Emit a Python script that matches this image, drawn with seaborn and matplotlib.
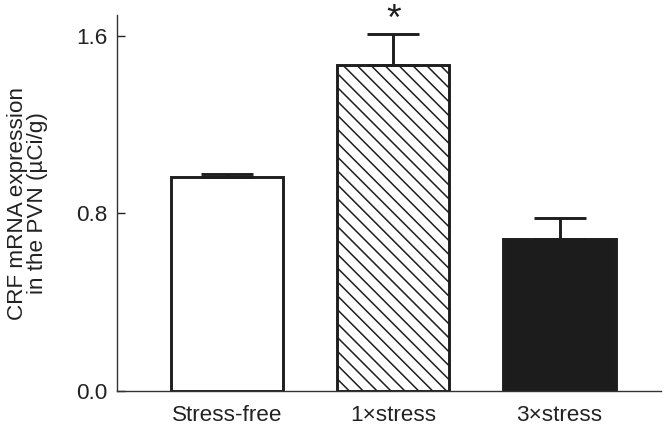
import matplotlib
matplotlib.use('Agg')
import matplotlib.pyplot as plt
import seaborn as sns
import pandas as pd

# DATA
groups = ['Stress-free', '1\u00d7stress', '3\u00d7stress']
means = [0.964, 1.468, 0.684]
sems = [0.015, 0.142, 0.097]
significant = [False, True, False]

# CONFIG
# drawn at dpi 125 so the hatch spacing matches the reference (~10 px);
# every size in points is scaled by S to keep the 100-dpi look
DPI = 125
S = 100 / DPI
FS = 16.2 * S
INK = '#1e1e1e'

sns.set_style('ticks')
plt.rcParams['font.family'] = ['Liberation Sans', 'DejaVu Sans']
plt.rcParams['hatch.linewidth'] = 1.1 * S
plt.rcParams['hatch.color'] = INK

fig = plt.figure(figsize=(671 / DPI, 428 / DPI), dpi=DPI)
ax = fig.add_axes([0.1744, 0.0864, 0.8106, 0.8786])

df = pd.DataFrame({'Group': groups, 'Mean': means})
sns.barplot(data=df, x='Group', y='Mean', hue='Group', legend=False,
            palette=['white', 'white', '#1c1c1c'], width=0.675,
            edgecolor=INK, linewidth=2.1 * S, saturation=1, ax=ax)

ax.patches[1].set_hatch('\\' * 3)

# upward-only error bars
ax.errorbar(range(len(groups)), means, yerr=[[0] * len(sems), sems],
            fmt='none', ecolor=INK, elinewidth=2.1 * S, capsize=19 * S,
            capthick=2.1 * S, zorder=3)

for i, sig in enumerate(significant):
    if sig:
        ax.annotate('*', xy=(i, means[i] + sems[i]), xytext=(0, -3 * S),
                    textcoords='offset points', ha='center', va='bottom',
                    fontsize=27 * S, color=INK)

ax.set_xlim(-0.663, 2.61)
ax.set_ylim(0, 1.694)
ax.set_yticks([0.0, 0.8, 1.6])
ax.set_yticklabels(['0.0', '0.8', '1.6'])
ax.set_xlabel('')
ax.set_ylabel('CRF mRNA expression\nin the PVN (\u00b5Ci/g)', fontsize=FS,
              linespacing=0.95, labelpad=20 * S, color='#222222')

ax.tick_params(axis='y', direction='in', length=6 * S, width=1.0 * S,
               pad=7 * S, labelsize=FS, colors='#222222')
ax.tick_params(axis='x', length=0, pad=10 * S, labelsize=FS, colors='#222222')

sns.despine(ax=ax)
for side in ['left', 'bottom']:
    ax.spines[side].set_linewidth(1.0 * S)
    ax.spines[side].set_color('#333333')

fig.savefig('out.png', dpi=DPI)
